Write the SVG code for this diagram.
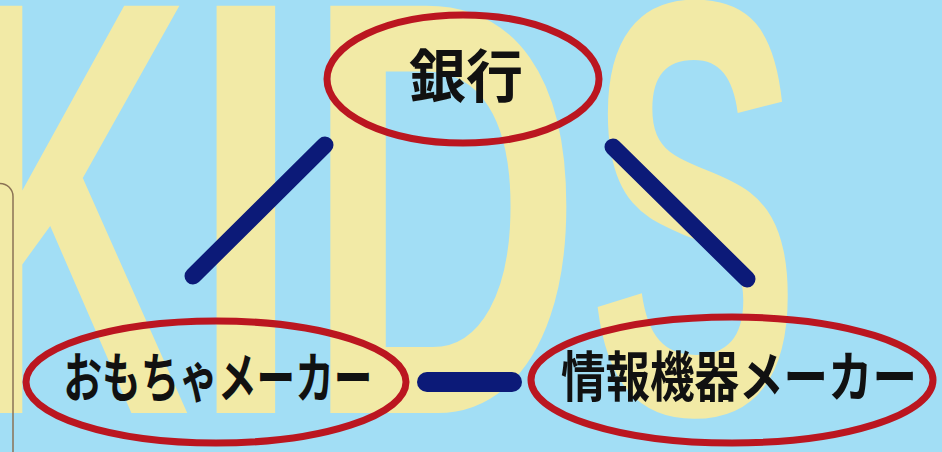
<svg xmlns="http://www.w3.org/2000/svg" width="942" height="452" viewBox="0 0 942 452">
  <style>
    .kids { font-family: "Liberation Sans", Arial, sans-serif; font-weight: 700; font-size: 592px; fill: #f2eaa6; }
    .oval { fill: none; stroke: #bb1620; stroke-width: 7; }
    .label { font-family: "Noto Sans CJK JP", "Noto Sans CJK SC", sans-serif; font-weight: 700; fill: #111111; text-anchor: middle; }
    .link { stroke: #0c1a78; stroke-linecap: round; fill: none; }
  </style>
  <rect width="942" height="452" fill="#a2def5"/>
  <g id="watermark">
    <text class="kids" transform="translate(-47,413) scale(0.555,1)">K</text>
    <text class="kids" transform="translate(189.4,413) scale(0.6865,1)">I</text>
    <text class="kids" transform="translate(304.6,413) scale(0.65,1)">D</text>
    <text class="kids" transform="translate(588.5,413) scale(0.536,1)">S</text>
  </g>
  <path d="M0,183.5 A13,13 0 0 1 13,196.5 V452" fill="none" stroke="#8b7355" stroke-width="1.5"/>
  <g id="connectors">
    <line class="link" x1="193" y1="276" x2="325" y2="145" stroke-width="17"/>
    <line class="link" x1="613" y1="147" x2="747" y2="279" stroke-width="17"/>
    <line class="link" x1="427" y1="382" x2="512" y2="382" stroke-width="20"/>
  </g>
  <g id="bank">
    <ellipse class="oval" cx="463" cy="79" rx="136" ry="64"/>
    <text class="label" x="466" y="97" font-size="57" textLength="114" lengthAdjust="spacingAndGlyphs">銀行</text>
  </g>
  <g id="toy-maker">
    <ellipse class="oval" cx="216" cy="382" rx="190" ry="61"/>
    <text class="label" x="218" y="398" font-size="54" textLength="309" lengthAdjust="spacingAndGlyphs">おもちゃメーカー</text>
  </g>
  <g id="it-maker">
    <ellipse class="oval" cx="732" cy="380" rx="201" ry="63"/>
    <text class="label" x="739" y="397" font-size="54" textLength="356" lengthAdjust="spacingAndGlyphs">情報機器メーカー</text>
  </g>
</svg>
